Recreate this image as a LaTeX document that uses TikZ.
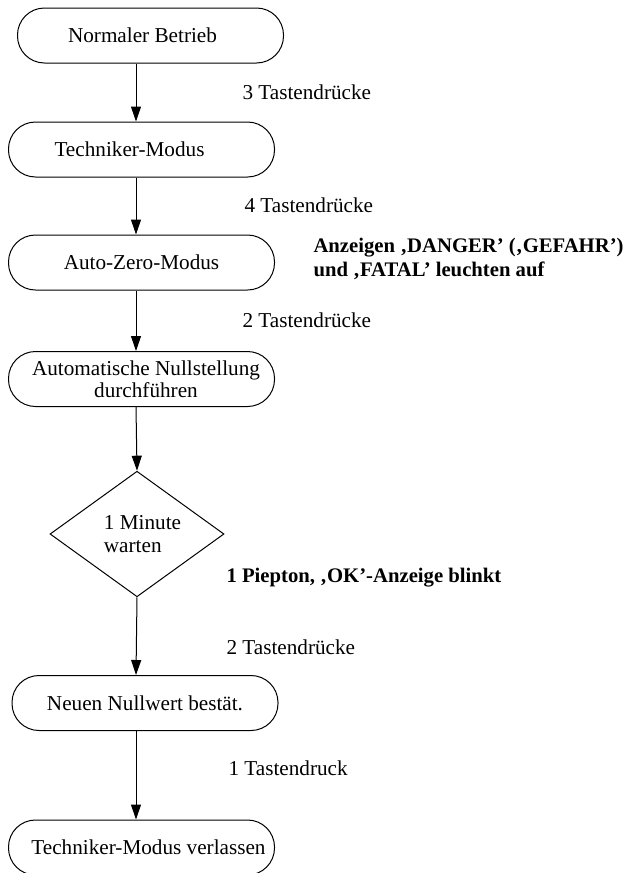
\documentclass[tikz,border=0pt]{standalone}
\usepackage{fontspec}
\setmainfont{Liberation Serif}
\usepackage{tikz}
\usetikzlibrary{arrows.meta}
\usetikzlibrary{positioning, shapes.geometric}

\tikzset{
  box/.style={draw, rectangle, rounded corners=13.5pt, minimum width=133pt,
    minimum height=27.5pt, align=center, inner sep=1pt},
  dec/.style={draw, diamond, minimum width=87pt, minimum height=56.5pt,
    align=left, inner sep=0pt},
  lbl/.style={anchor=west, inner sep=0pt},
  note/.style={anchor=west, inner sep=0pt, align=left,
    font=\fontsize{10.35}{11.8}\selectfont\bfseries}
}

\begin{document}
\begin{tikzpicture}[x=0.5pt,y=-0.5pt,line width=0.5pt,
    >={Triangle[length=7.5pt,width=5pt]},
    font=\fontsize{10.6}{11}\selectfont]
  \useasboundingbox (0,0) rectangle (628,873);
  \coordinate (ax) at (136,0);

  \node[box] (normal)    at (150.5,35.5) {Normaler Betrieb\hspace{8pt}};
  \node[box] (techmode)  at (141.5,149.5) {Techniker-Modus\hspace{12pt}};
  \node[box] (autozero)  at (141.5,262.5) {Auto-Zero-Modus};
  \node[box] (nullst)    at (141.5,379)
    {\hspace*{4.5pt}Automatische Nullstellung\\\hspace*{4.5pt}durchführen};
  \node[dec] (warten)    at (137,534)
    {\hspace*{5.5pt}1 Minute\\[0.6pt]\hspace*{5.5pt}warten};
  \node[box] (bestaet)   at (145,703) {Neuen Nullwert bestät.};
  \node[box] (verlassen) at (141.5,847.5) {\hspace{7pt}Techniker-Modus verlassen};

  \node[lbl]  (t3)  at (242,92)  {3 Tastendrücke};
  \node[lbl]  (t4)  at (244,205) {4 Tastendrücke};
  \node[note] (anz) at (313,259) {Anzeigen ‚DANGER’ (‚GEFAHR’)\\und ‚FATAL’ leuchten auf};
  \node[lbl]  (t2a) at (242,320) {2 Tastendrücke};
  \node[note] (piep) at (226,578) {1 Piepton, ‚OK’-Anzeige blinkt};
  \node[lbl]  (t2b) at (226,647) {2 Tastendrücke};
  \node[lbl]  (t1)  at (228,768) {1 Tastendruck};

  \path[->]
    (normal.south -| ax)   edge (techmode.north -| ax)
    (techmode.south -| ax) edge (autozero.north -| ax)
    (autozero.south -| ax) edge (nullst.north -| ax)
    (nullst.south -| ax)   edge (warten.north)
    (warten.south)         edge (bestaet.north -| ax)
    (bestaet.south -| ax)  edge (verlassen.north -| ax);
\end{tikzpicture}
\end{document}
